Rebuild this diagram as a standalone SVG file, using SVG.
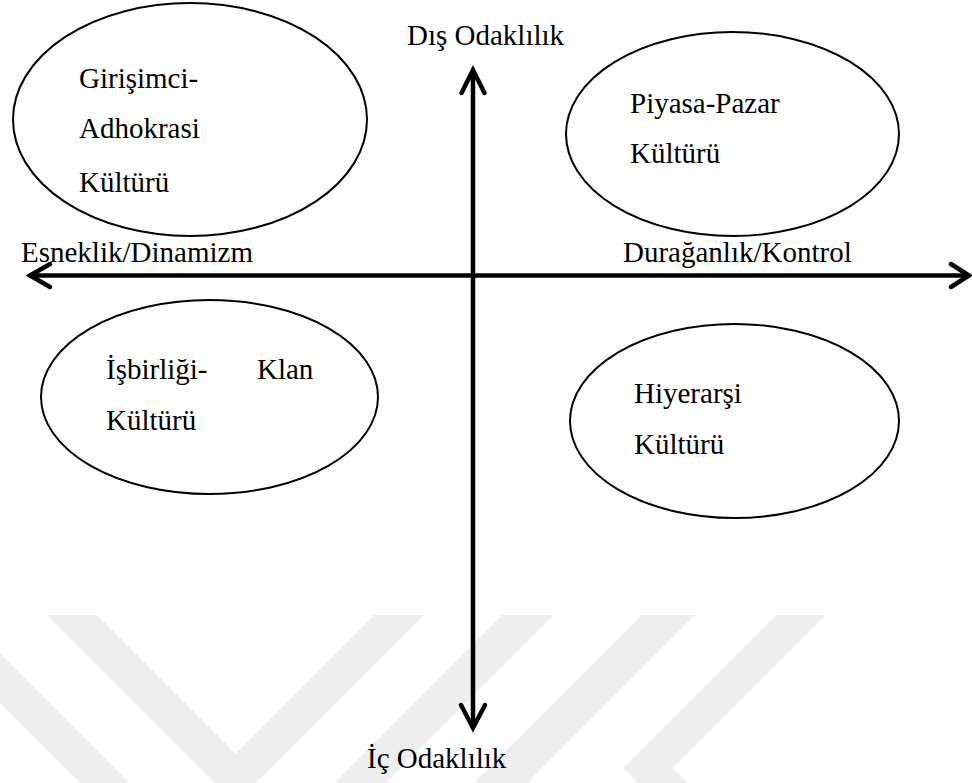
<svg xmlns="http://www.w3.org/2000/svg" width="972" height="783" viewBox="0 0 972 783">
<style>
.t{font-family:"Liberation Serif","Times New Roman",serif;font-size:29px;fill:#000}
.e{fill:none;stroke:#000;stroke-width:2}
.ax{fill:none;stroke:#000;stroke-width:4.5;stroke-linecap:butt}
.ah{fill:none;stroke:#000;stroke-width:4.5;stroke-linecap:round;stroke-linejoin:miter}
.wm{fill:#eeeeee}
</style>
<rect width="972" height="783" fill="#fff"/>
<g id="watermark">
<polygon class="wm" points="0,653 130,783 80,783 0,703"/>
<polygon class="wm" points="47,615 97,615 235.5,753.5 374,615 424,615 235.5,803.5"/>
<polygon class="wm" points="502,615 554,615 386,783 334,783"/>
<polygon class="wm" points="642,615 695,615 527,783 474,783"/>
<polygon class="wm" points="776,615 826,615 673,768 688,783 638,783 623,768"/>
</g>
<g id="connectors">
<line class="ax" x1="473" y1="71" x2="473" y2="727"/>
<polyline class="ah" points="461.5,93 473,70 484.5,93"/>
<polyline class="ah" points="461,705 473,728 485,705"/>
<line class="ax" x1="31" y1="275.5" x2="968" y2="275.5"/>
<polyline class="ah" points="50,264 30,275.5 50,287"/>
<polyline class="ah" points="951,264 969,275.5 951,287"/>
</g>
<g id="axis-top"><text class="t" x="407" y="45">Dış Odaklılık</text></g>
<g id="axis-bottom"><text class="t" x="367" y="768">İç Odaklılık</text></g>
<g id="axis-left"><text class="t" x="21" y="262">Esneklik/Dinamizm</text></g>
<g id="axis-right"><text class="t" x="623" y="262">Durağanlık/Kontrol</text></g>
<g id="adhokrasi">
<ellipse class="e" cx="190" cy="119.5" rx="177" ry="116.5"/>
<text class="t" x="79" y="88">Girişimci-</text>
<text class="t" x="79" y="138">Adhokrasi</text>
<text class="t" x="79" y="192">Kültürü</text>
</g>
<g id="pazar">
<ellipse class="e" cx="732.5" cy="134" rx="166.5" ry="102"/>
<text class="t" x="630" y="113">Piyasa-Pazar</text>
<text class="t" x="630" y="163">Kültürü</text>
</g>
<g id="klan">
<ellipse class="e" cx="209.5" cy="397" rx="168.5" ry="97"/>
<text class="t" x="106" y="379">İşbirliği-</text>
<text class="t" x="257" y="379">Klan</text>
<text class="t" x="106" y="430">Kültürü</text>
</g>
<g id="hiyerarsi">
<ellipse class="e" cx="734.5" cy="421" rx="164.5" ry="97"/>
<text class="t" x="634" y="403">Hiyerarşi</text>
<text class="t" x="634" y="454">Kültürü</text>
</g>
</svg>
